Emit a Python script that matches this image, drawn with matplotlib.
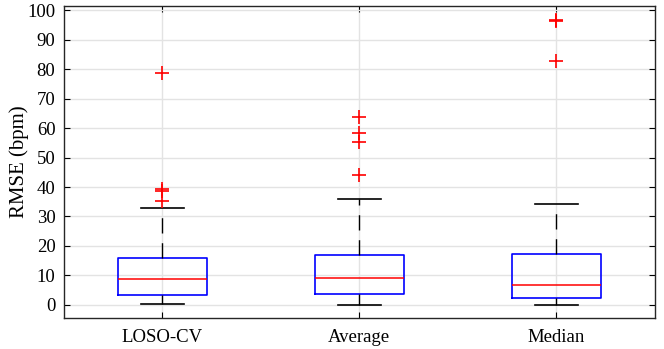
import matplotlib.pyplot as plt

plt.rcParams['font.family'] = ['Liberation Serif', 'DejaVu Serif']

labels = ['LOSO-CV', 'Average', 'Median']
whislo = [0.4, 0.1, 0.1]
q1 = [3.3, 3.8, 2.3]
med = [8.7, 9.0, 6.9]
q3 = [15.9, 17.0, 17.3]
whishi = [32.8, 35.8, 34.4]
fliers = [
    [35.2, 38.7, 39.3, 78.6],
    [44.2, 55.2, 58.4, 63.6],
    [82.8, 96.2, 96.6],
]

stats = []
for i, lab in enumerate(labels):
    stats.append(dict(label=lab, whislo=whislo[i], q1=q1[i], med=med[i],
                      q3=q3[i], whishi=whishi[i], fliers=fliers[i]))

fig = plt.figure(figsize=(6.64, 3.49), dpi=100)
ax = fig.add_axes([0.096, 0.089, 0.890, 0.894])

ax.grid(True, color='#e3e3e3', linewidth=1.0, zorder=0)
ax.set_axisbelow(True)

ax.bxp(stats, positions=[1, 2, 3], widths=0.45,
       boxprops=dict(color='blue', linewidth=1.2),
       medianprops=dict(color='red', linewidth=1.1),
       whiskerprops=dict(color='black', linewidth=1.0, linestyle=(0, (11, 7))),
       capprops=dict(color='black', linewidth=1.2),
       capwidths=0.22,
       flierprops=dict(marker='+', markeredgecolor='red', markersize=10.5,
                       markeredgewidth=1.2, linestyle='none'))

ax.set_xlim(0.5, 3.5)
ax.set_ylim(-4.4, 101.4)
ax.set_yticks(range(0, 101, 10))
ax.set_ylabel('RMSE (bpm)', fontsize=15, labelpad=-1)
ax.tick_params(direction='in', top=True, right=True, labelsize=13.5,
               length=4, width=0.8)
ax.tick_params(axis='y', pad=6)
ax.tick_params(axis='x', pad=8)
for s in ax.spines.values():
    s.set_linewidth(1.0)
    s.set_color('#262626')

fig.savefig('out.png', dpi=100)
